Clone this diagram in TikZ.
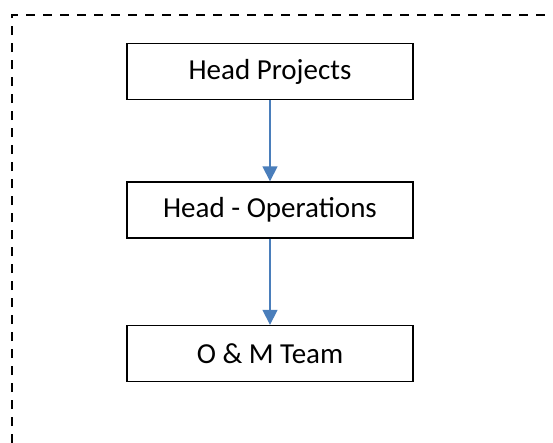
\documentclass[tikz,border=0pt]{standalone}
\usepackage{fontspec}
\setmainfont{Carlito}
\usetikzlibrary{arrows.meta}
\definecolor{arrowblue}{HTML}{4A7EBB}
\tikzset{
  orgbox/.style={draw=black, line width=1.4pt, minimum width=286pt, minimum height=56pt, inner sep=0pt, font=\fontsize{29}{33}\selectfont, text=black},
  link/.style={draw=arrowblue, line width=1.6pt, -{Triangle[width=15pt,length=15pt]}},
  frame/.style={draw=black, line width=2.4pt, dash pattern=on 9pt off 8pt}
}
\begin{document}
\begin{tikzpicture}[x=1pt,y=-1pt]
\useasboundingbox (0,0) rectangle (553,442);
\begin{scope}
\clip (0,0) rectangle (553,442);
\draw[frame] (12,460) -- (12,15) -- (570,15);
\end{scope}
\node[orgbox] (hp) at (270,71.5) {Head Projects};
\node[orgbox] (ho) at (270,210) {Head - Operations};
\node[orgbox] (om) at (270,353.5) {O \& M Team};
\draw[link] (hp) -- (ho);
\draw[link] (ho) -- (om);
\end{tikzpicture}
\end{document}
